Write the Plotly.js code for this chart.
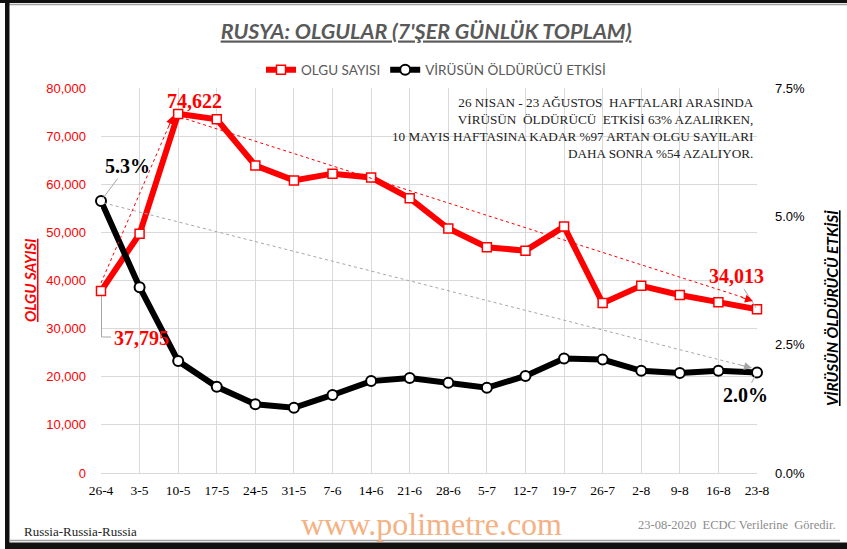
<!DOCTYPE html>
<html>
<head>
<meta charset="utf-8">
<script src="https://cdn.plot.ly/plotly-3.0.1.min.js"></script>
<style>
html,body{margin:0;padding:0;background:#fff;}
#chart{width:847px;height:549px;}
</style>
</head>
<body>
<div id="chart"></div>
<script>
// ---- data ----
var weeks = ["26-4","3-5","10-5","17-5","24-5","31-5","7-6","14-6","21-6","28-6","5-7","12-7","19-7","26-7","2-8","9-8","16-8","23-8"];
var cases = [37795,49700,74622,73500,63900,60800,62200,61400,57100,50800,46900,46200,51200,35300,38900,37000,35500,34013];
var lethality = [0.053,0.0362,0.0218,0.0168,0.0134,0.0127,0.0152,0.0179,0.0185,0.0176,0.0166,0.0189,0.0223,0.0221,0.0199,0.0195,0.0199,0.0196];
var seriesNames = ["OLGU SAYISI","VİRÜSÜN ÖLDÜRÜCÜ ETKİSİ"];
var leftTicks = [0,10000,20000,30000,40000,50000,60000,70000,80000];
var rightTicks = [0,0.025,0.05,0.075];

// ---- geometry helpers (pixel -> paper) ----
var W = 847, H = 549, L = 101, R = 90, T = 88, B = 76;
var PW = W - L - R, PH = H - T - B;
function px(x){ return (x - L) / PW; }
function py(y){ return (H - B - y) / PH; }

var serif = "Liberation Serif, Times New Roman, serif";
var sans = "Liberation Sans, Arial, sans-serif";

var traces = [
  {
    x: weeks, y: cases, name: seriesNames[0], type: "scatter", mode: "lines+markers",
    line: {color: "#ff0000", width: 6},
    marker: {symbol: "square", size: 9, color: "#ffffff", line: {color: "#ff0000", width: 1.5}},
    cliponaxis: false, yaxis: "y"
  },
  {
    x: weeks, y: lethality, name: seriesNames[1], type: "scatter", mode: "lines+markers",
    line: {color: "#000000", width: 6},
    marker: {symbol: "circle", size: 10, color: "#ffffff", line: {color: "#000000", width: 2}},
    cliponaxis: false, yaxis: "y2"
  }
];

var last = weeks.length - 1;
function fmt(v){ return v.toLocaleString("en-US"); }
function pct(v){ return (v*100).toFixed(1) + "%"; }

var annotations = [
  // left axis title
  {xref:"paper", yref:"paper", x: px(30), y: py(281), text:"<b><i><u>OLGU SAYISI</u></i></b>", textangle:-90,
   showarrow:false, font:{family:"Lato, "+sans, size:15, color:"#ff0000"}, xanchor:"center", yanchor:"middle"},
  // right axis title
  {xref:"paper", yref:"paper", x: px(832), y: py(308), text:"<b><i><u>VİRÜSÜN ÖLDÜRÜCÜ ETKİSİ</u></i></b>", textangle:-90,
   showarrow:false, font:{family:"Lato, "+sans, size:15.5, color:"#000000"}, xanchor:"center", yanchor:"middle"},
  // info text
  {xref:"paper", yref:"paper", x: px(756), y: py(93), xanchor:"right", yanchor:"top", align:"right", showarrow:false,
   text:"26 NISAN - 23 AĞUSTOS  HAFTALARI ARASINDA<br>VİRÜSÜN  ÖLDÜRÜCÜ  ETKİSİ 63% AZALIRKEN,<br>10 MAYIS HAFTASINA KADAR %97 ARTAN OLGU SAYILARI<br>DAHA SONRA %54 AZALIYOR.",
   font:{family:serif, size:13.2, color:"#222222"}},
  // data labels
  {x: weeks[2], y: cases[2], xref:"x", yref:"y", text:"<b>"+fmt(cases[2])+"</b>", showarrow:false, yshift:13, xshift:16,
   font:{family:serif, size:20, color:"#ff0000"}},
  {x: weeks[0], y: cases[0], xref:"x", yref:"y", text:"<b>"+fmt(cases[0])+"</b>", showarrow:false, xanchor:"left", xshift:11, yshift:-47,
   font:{family:serif, size:20, color:"#ff0000"}},
  {x: weeks[last], y: cases[last], xref:"x", yref:"y", text:"<b>"+fmt(cases[last])+"</b>", showarrow:true, arrowhead:0, arrowwidth:1, arrowcolor:"#a6a6a6",
   ax:-21, ay:-33, standoff:2, font:{family:serif, size:20, color:"#ff0000"}},
  {x: weeks[0], y: lethality[0], xref:"x", yref:"y2", text:"<b>"+pct(lethality[0])+"</b>", showarrow:true, arrowhead:0, arrowwidth:1, arrowcolor:"#a6a6a6",
   ax:26, ay:-35, standoff:3, font:{family:serif, size:20, color:"#000000"}},
  {x: weeks[last], y: lethality[last], xref:"x", yref:"y2", text:"<b>"+pct(lethality[last])+"</b>", showarrow:true, arrowhead:0, arrowwidth:1, arrowcolor:"#a6a6a6",
   ax:-12, ay:23, standoff:4, font:{family:serif, size:20, color:"#000000"}},
  // arrowheads of trend lines
  {xref:"paper", yref:"paper", x: px(173), y: py(116), ax: -5, ay: 12, text:"", showarrow:true, arrowhead:2, arrowsize:1.6, arrowwidth:1, arrowcolor:"#ff0000"},
  {xref:"paper", yref:"paper", x: px(753), y: py(301), ax: -13, ay: -4, text:"", showarrow:true, arrowhead:2, arrowsize:1.6, arrowwidth:1, arrowcolor:"#ff0000"},
  {xref:"paper", yref:"paper", x: px(752), y: py(368), ax: -13, ay: -3.3, text:"", showarrow:true, arrowhead:2, arrowsize:1.6, arrowwidth:1, arrowcolor:"#a6a6a6"},
  // footer
  {xref:"paper", yref:"paper", x: px(22), y: py(531), xanchor:"left", yanchor:"middle", showarrow:false,
   text:"Russia-Russia-Russia", font:{family:serif, size:13, color:"#222222"}},
  {xref:"paper", yref:"paper", x: px(431), y: py(524), xanchor:"center", yanchor:"middle", showarrow:false,
   text:"www.polimetre.com", font:{family:serif, size:32, color:"#f4b183"}},
  {xref:"paper", yref:"paper", x: px(838), y: py(525), xanchor:"right", yanchor:"middle", showarrow:false,
   text:"23-08-2020  ECDC Verilerine  Göredir.", font:{family:serif, size:12.5, color:"#8c8c8c"}}
];

var shapes = [
  // trend lines (dotted)
  {type:"line", xref:"paper", yref:"paper", x0:px(101), y0:py(283), x1:px(171), y1:py(121), line:{color:"#ff0000", width:1, dash:"dot"}},
  {type:"line", xref:"paper", yref:"paper", x0:px(186), y0:py(119), x1:px(745), y1:py(298), line:{color:"#ff0000", width:1, dash:"dot"}},
  {type:"line", xref:"paper", yref:"paper", x0:px(104), y0:py(203), x1:px(744), y1:py(366), line:{color:"#a6a6a6", width:1, dash:"dot"}},
  // elbow leader for first label
  {type:"path", xref:"paper", yref:"paper", path:"M "+px(101.5)+" "+py(296)+" L "+px(101.5)+" "+py(337)+" L "+px(111)+" "+py(337),
   line:{color:"#a6a6a6", width:1}},
  // frame
  {type:"rect", xref:"paper", yref:"paper", x0:px(0), x1:px(847), y0:py(0), y1:py(3), fillcolor:"#111111", line:{width:0}, layer:"above"},
  {type:"line", xref:"paper", yref:"paper", x0:px(8), x1:px(847), y0:py(4.5), y1:py(4.5), line:{color:"#a0a0a0", width:1.5}},
  {type:"rect", xref:"paper", yref:"paper", x0:px(5), x1:px(9.5), y0:py(0), y1:py(549), fillcolor:"#111111", line:{width:0}},
  {type:"rect", xref:"paper", yref:"paper", x0:px(5), x1:px(847), y0:py(542.5), y1:py(549), fillcolor:"#111111", line:{width:0}},
  {type:"line", xref:"paper", yref:"paper", x0:px(9), x1:px(840), y0:py(540.5), y1:py(540.5), line:{color:"#a0a0a0", width:1.5}}
];

var layout = {
  width: W, height: H,
  margin: {l: L, r: R, t: T, b: B, pad: 0},
  paper_bgcolor: "#ffffff", plot_bgcolor: "#ffffff",
  hovermode: false,
  title: {text: "<b><i><u>RUSYA: OLGULAR (7'ŞER GÜNLÜK TOPLAM)</u></i></b>", x: px(431), xanchor: "center", y: 1 - 31/H, yanchor: "middle",
          font: {family: "Lato, " + sans, size: 21.5, color: "#595959"}},
  showlegend: true,
  legend: {orientation: "h", x: px(436), xanchor: "center", y: py(70), yanchor: "middle",
           font: {family: "Lato, " + sans, size: 13.5, color: "#595959"}, bgcolor: "rgba(0,0,0,0)", itemwidth: 30, tracegroupgap: 0},
  xaxis: {type: "category", range: [0, weeks.length - 1], showgrid: true, gridcolor: "#d9d9d9", gridwidth: 1,
          showline: true, linecolor: "#d9d9d9", linewidth: 1, ticks: "", zeroline: false, ticklabelstandoff: 5,
          tickfont: {family: serif, size: 13.5, color: "#000000"}, tickangle: 0, automargin: false, fixedrange: true},
  yaxis: {range: [0, 80000], tickvals: leftTicks, tickformat: ",d", showgrid: true, gridcolor: "#d9d9d9", gridwidth: 1,
          zeroline: false, showline: false, ticks: "", ticklabelstandoff: 14,
          tickfont: {family: sans, size: 13, color: "#ff0000"}, automargin: false, fixedrange: true},
  yaxis2: {overlaying: "y", side: "right", range: [0, 0.075], tickvals: rightTicks, tickformat: ".1%", showgrid: false,
           zeroline: false, showline: false, ticks: "", ticklabelstandoff: 17,
           tickfont: {family: sans, size: 13, color: "#000000"}, automargin: false, fixedrange: true},
  annotations: annotations,
  shapes: shapes
};

Plotly.newPlot("chart", traces, layout, {displayModeBar: false, staticPlot: true});
</script>
</body>
</html>
